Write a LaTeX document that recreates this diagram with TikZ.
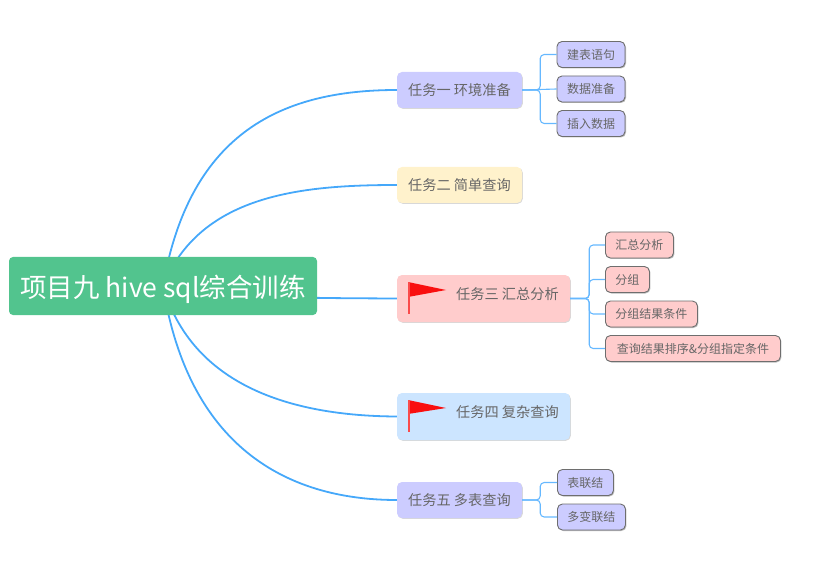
\documentclass[tikz,border=0pt]{standalone}
\usepackage{fontspec}
\setmainfont{Noto Sans CJK SC}
\usetikzlibrary{positioning, shadows, backgrounds}
\definecolor{mapRoot}{HTML}{52C48E}
\definecolor{mapLink}{HTML}{45A8FA}
\definecolor{mapTwig}{HTML}{66B8FF}
\definecolor{mapText}{HTML}{666666}
\definecolor{mapEdge}{HTML}{6E6E6E}
\definecolor{mapViolet}{HTML}{CCCCFF}
\definecolor{mapCream}{HTML}{FFF2CC}
\definecolor{mapRose}{HTML}{FFCCCC}
\definecolor{mapSky}{HTML}{CCE5FF}
\definecolor{mapFlag}{HTML}{F90F0F}

\begin{document}
\begin{tikzpicture}[
  x=1pt, y=-1pt,
  rootbox/.style={fill=mapRoot, rounded corners=4pt, minimum width=308pt, minimum height=58pt,
                  text=white, font=\fontsize{26.5}{30}\selectfont, inner sep=0pt,
                  text height=24pt, text depth=0pt},
  taskbox/.style={rounded corners=5pt, minimum width=125pt, minimum height=36pt, inner sep=0pt,
                  text=mapText, font=\fontsize{14.2}{16}\selectfont, text height=11pt, text depth=0pt,
                  drop shadow={shadow xshift=0.8pt, shadow yshift=-0.8pt, fill=black!30, opacity=0.5}},
  flagbox/.style={taskbox, minimum width=173pt, minimum height=47pt},
  flagtext/.style={text=mapText, font=\fontsize{14.2}{16}\selectfont, inner sep=0pt,
                   text height=11pt, text depth=0pt},
  leafbox/.style={draw=mapEdge, rounded corners=5pt, minimum height=26pt, inner sep=0pt, line width=0.9pt,
                  text=mapText, font=\fontsize{12}{15}\selectfont,
                  drop shadow={shadow xshift=1pt, shadow yshift=-1pt, fill=black!45, opacity=0.6}},
  link/.style={draw=mapLink, line width=1.8pt},
  twig/.style={draw=mapTwig, line width=1.1pt, rounded corners=4pt},
  flagcloth/.style={fill=mapFlag},
  flagpole/.style={draw=mapFlag!75, line width=1.1pt}
]
\useasboundingbox (0,0) rectangle (832,577);

\node[rootbox] (root) at (163,286) {项目九 hive sql综合训练};

\node[taskbox, fill=mapViolet] (one) at (459.5,90) {任务一 环境准备};
\node[taskbox, fill=mapCream] (two) at (459.5,185) {任务二 简单查询};
\node[flagbox, fill=mapRose] (three) at (483.5,298.5) {};
\node[flagbox, fill=mapSky] (four) at (483.5,416.5) {};
\node[taskbox, fill=mapViolet] (five) at (459.5,500) {任务五 多表查询};

\node[flagtext] (threetext) at (507.5,294) {任务三 汇总分析};
\node[flagtext] (fourtext) at (507.5,411.5) {任务四 复杂查询};

% leaves of the first task
\node[leafbox, fill=mapViolet, minimum width=68pt] (table) at (591,54.5) {建表语句};
\node[leafbox, fill=mapViolet, minimum width=68pt, below=7.6pt of table] (data) {数据准备};
\node[leafbox, fill=mapViolet, minimum width=68pt, below=7.6pt of data] (insert) {插入数据};

% leaves of the third task
\node[leafbox, fill=mapRose, minimum width=68pt, anchor=west] (sum) at (605,245) {汇总分析};
\node[leafbox, fill=mapRose, minimum width=44pt, below=7.6pt of sum.south west, anchor=north west] (group) {分组};
\node[leafbox, fill=mapRose, minimum width=92pt, below=7.6pt of group.south west, anchor=north west] (cond) {分组结果条件};
\node[leafbox, fill=mapRose, minimum width=175pt, below=7.6pt of cond.south west, anchor=north west] (order) {查询结果排序\&分组指定条件};

% leaves of the fifth task
\node[leafbox, fill=mapViolet, minimum width=56pt, anchor=west] (join) at (557,482.5) {表联结};
\node[leafbox, fill=mapViolet, minimum width=68pt, below=7.6pt of join.south west, anchor=north west] (multi) {多变联结};

\begin{scope}[on background layer]
\draw[link] (root.center) .. controls (190,130) and (285,90) .. (one.west);
\draw[link] (root.center) .. controls (200,195) and (300,185) .. (two.west);
\draw[link] (root.center) .. controls (230,298) and (300,298) .. (three.west);
\draw[link] (root.center) .. controls (192,385) and (290,416) .. (four.west);
\draw[link] (root.center) .. controls (188,445) and (285,500) .. (five.west);
\end{scope}

\draw[twig] (one.east) -- +(18,0) |- (table.west);
\draw[twig] (one.east) -- (data.west);
\draw[twig] (one.east) -- +(18,0) |- (insert.west);

\draw[twig] (three.east) -- +(19,0) |- (sum.west);
\draw[twig] (three.east) -- +(19,0) |- (group.west);
\draw[twig] (three.east) -- +(19,0) |- (cond.west);
\draw[twig] (three.east) -- +(19,0) |- (order.west);

\draw[twig] (five.east) -- +(18,0) |- (join.west);
\draw[twig] (five.east) -- +(18,0) |- (multi.west);

% flags
\fill[flagcloth] (408,282) -- (446,290) -- (408,297) -- cycle;
\draw[flagpole] (409,282) -- (409,314);
\fill[flagcloth] (408,400) -- (446,408) -- (408,414) -- cycle;
\draw[flagpole] (409,400) -- (409,432);

\end{tikzpicture}
\end{document}
